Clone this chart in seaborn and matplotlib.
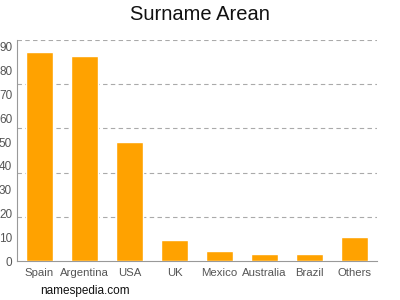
import matplotlib
matplotlib.use("Agg")
import matplotlib.pyplot as plt
import seaborn as sns
import pandas as pd

countries = ["Spain", "Argentina", "USA", "UK", "Mexico", "Australia", "Brazil", "Others"]
counts = [88, 86, 50, 9, 4, 3, 3, 10]
yticks = [0, 10, 20, 30, 40, 50, 60, 70, 80, 90]

sns.set_style("white")
plt.rcParams['font.family'] = ['Liberation Sans', 'DejaVu Sans']

df = pd.DataFrame({"country": countries, "count": counts})

fig = plt.figure(figsize=(4, 3), dpi=100)
ax = fig.add_axes([17/400, 1 - 261/300, 360/400, (261-40)/300])

sns.barplot(data=df, x="country", y="count", color="#ffa200", saturation=1,
            width=0.62, ax=ax, zorder=3)

ymax = 92.9
ax.set_ylim(0, ymax)
ax.set_xlim(-0.5, len(countries) - 0.5)
for i in range(1, 6):
    ax.axhline(ymax * i / 5, color="#aaaaaa", linestyle=(0, (4, 3)), linewidth=0.8, zorder=1)

ax.set_yticks(yticks)
ax.set_xlabel("")
ax.set_ylabel("")
for s in ["top", "right"]:
    ax.spines[s].set_visible(False)
for s in ["left", "bottom"]:
    ax.spines[s].set_color("#999999")
    ax.spines[s].set_linewidth(0.8)
ax.tick_params(axis="x", colors="#999999", labelcolor="#555555", labelsize=8.2,
               length=3, width=0.8, pad=2)
ax.tick_params(axis="y", colors="#999999", labelcolor="#555555", labelsize=8.5,
               length=3, width=0.8, pad=0.5)

fig.text(0.5, 1 - 15/300, "Surname Arean", ha="center", va="center", fontsize=14.5, color="#111111")
fig.text(40/400, 1 - 291/300, "namespedia.com", ha="left", va="center", fontsize=8.5, color="#111111")

fig.savefig("out.png", dpi=100)
